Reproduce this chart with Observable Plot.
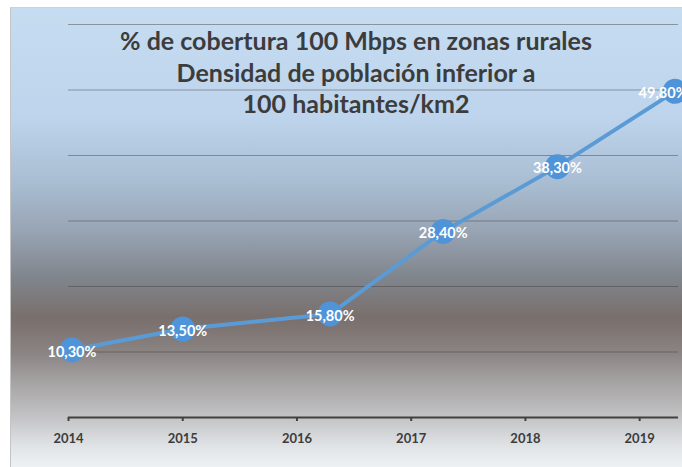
<!DOCTYPE html>
<html>
<head>
<meta charset="utf-8">
<script src="https://cdn.jsdelivr.net/npm/d3@7"></script>
<script src="https://cdn.jsdelivr.net/npm/@observablehq/plot@0.6"></script>
<style>
  html, body { margin: 0; padding: 0; background: #ffffff; }
  #wrap { position: relative; width: 682px; height: 467px; overflow: hidden; }
  #bg {
    position: absolute; left: 10px; top: 7px; width: 672px; height: 460px;
    border-left: 1px solid #c4c4c4; border-top: 1px solid #d0d0d0;
    background: linear-gradient(to bottom,
      #c6dcf1 0px, #bdd4ec 110px, #a9bdd2 175px, #97a3b2 225px,
      #80858c 270px, #796f6c 310px, #8a8483 345px, #a29f9f 370px,
      #c4c4c6 410px, #e2e5e8 440px, #eef2f5 460px);
  }
  #chart { position: absolute; left: 0; top: 0; }
  #title {
    position: absolute; left: 0; top: 25px; width: 712px; text-align: center;
    font-family: Lato, "Open Sans", sans-serif; font-weight: bold; font-size: 25px;
    line-height: 31.5px; color: #3c3c3c;
  }
</style>
</head>
<body>
<div id="wrap">
  <div id="bg"></div>
  <div id="chart"></div>
  <div id="title">% de cobertura 100 Mbps en zonas rurales<br>Densidad de población inferior a<br>100 habitantes/km2</div>
</div>
<script>
const years = [2014, 2015, 2016, 2017, 2018, 2019];
const xPos = [2014.03, 2015.0, 2016.29, 2017.28, 2018.28, 2019.31];
const values = [10.3, 13.5, 15.8, 28.4, 38.3, 49.8];
const gridValues = [10, 20, 30, 40, 50, 60];

const data = values.map((v, i) => ({
  year: years[i], x: xPos[i], v,
  label: v.toFixed(2).replace(".", ",") + "%"
}));
const last = data.length - 1;

const labelStyle = {
  x: "x", y: "v", text: "label", fill: "white", fontSize: 14.5, fontWeight: "bold",
  dy: 2, fontFamily: "Lato, 'Open Sans', sans-serif"
};

const plot = Plot.plot({
  width: 682,
  height: 467,
  marginLeft: 68,
  marginRight: 4,
  marginTop: 24,
  marginBottom: 50,
  style: { background: "transparent", fontFamily: "Lato, 'Open Sans', sans-serif" },
  x: { domain: [2014, 2019.34], axis: null, label: null },
  y: { domain: [0, 60], axis: null, label: null },
  marks: [
    Plot.ruleY(gridValues, { stroke: "#3e3e3e", strokeOpacity: 0.45, strokeWidth: 1.2 }),
    Plot.axisX({
      ticks: years, tickFormat: d => String(d), tickSize: 4, tickPadding: 12,
      stroke: "#404040", strokeWidth: 2, fill: "#3c3c3c", label: null,
      fontSize: 13, fontWeight: "bold"
    }),
    Plot.ruleY([0], { stroke: "#404040", strokeWidth: 2 }),
    Plot.line(data, { x: "x", y: "v", stroke: "#5b9bd5", strokeWidth: 4 }),
    Plot.dot(data, { x: "x", y: "v", r: 12.5, fill: "#4f94d8", stroke: "none" }),
    Plot.text(data.slice(0, last), labelStyle),
    Plot.text(data.slice(last), { ...labelStyle, dx: -12 })
  ]
});
document.getElementById("chart").appendChild(plot);
</script>
</body>
</html>
